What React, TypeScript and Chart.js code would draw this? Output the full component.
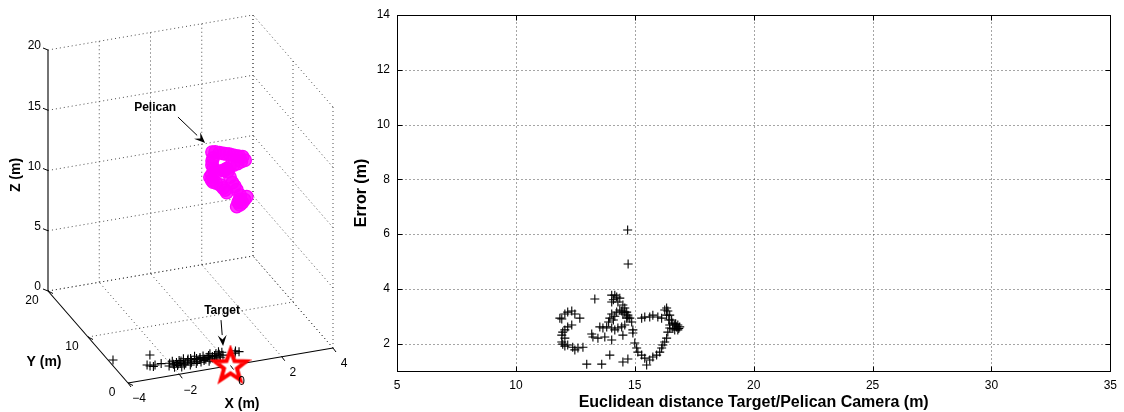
import React, { useEffect, useRef } from 'react';
import { Chart, registerables } from 'chart.js';
Chart.register(...registerables);

const FONT = "'Liberation Sans', Arial, Helvetica, sans-serif";

// ---------------- Right panel: error vs distance ----------------
const distance = [
  11.85, 11.93, 12.06, 12.18, 12.35, 12.48, 12.69, 12.35, 12.18, 12.06,
  11.97, 11.93, 12.06, 11.93, 11.97, 12.06, 12.18, 12.39, 12.48, 12.61,
  12.82, 13.32, 13.19, 13.24, 13.45, 13.74, 14.03, 13.53, 13.66, 13.82,
  14.03, 14.16, 14.29, 14.45, 14.58, 13.95, 12.98, 13.61, 14.50, 14.71,
  14.03, 14.16, 14.24, 14.03, 14.29, 14.10, 14.37, 14.45, 14.50, 14.58,
  14.66, 14.71, 14.03, 13.95, 13.90, 14.10, 14.16, 14.24, 14.37, 14.50,
  14.58, 14.66, 14.71, 14.79, 14.87, 14.92, 14.92, 15.00, 15.08, 15.13,
  15.29, 15.42, 15.50, 15.63, 15.76, 15.92, 16.05, 16.13, 16.18, 16.26,
  16.34, 16.39, 16.47, 16.43, 16.34, 16.26, 16.34, 15.29, 15.42, 15.63,
  15.76, 15.97, 16.13, 16.39, 16.47, 16.55, 16.60, 16.68, 16.76, 16.81,
  16.89, 16.81, 16.68, 16.47, 16.60, 16.72, 16.85, 14.50, 14.72, 14.70,
];
const errorM = [
  2.93, 2.90, 3.08, 3.15, 3.19, 3.08, 2.93, 2.68, 2.61, 2.50,
  2.42, 2.31, 2.20, 2.06, 1.98, 1.91, 1.95, 1.87, 1.77, 1.84,
  1.87, 3.63, 2.35, 2.24, 2.20, 2.24, 2.13, 2.61, 2.57, 2.61,
  2.57, 2.50, 2.57, 2.61, 2.68, 1.58, 1.25, 1.25, 1.33, 1.44,
  3.77, 3.77, 3.70, 3.52, 3.52, 3.60, 3.23, 3.19, 3.08, 3.15,
  2.93, 3.04, 3.08, 2.93, 2.79, 2.86, 3.00, 3.15, 3.66, 3.41,
  3.30, 3.15, 2.97, 2.93, 2.79, 2.50, 2.39, 2.02, 1.84, 1.69,
  1.58, 1.47, 1.22, 1.40, 1.51, 1.58, 1.69, 1.84, 1.95, 2.06,
  2.20, 2.42, 2.68, 2.86, 3.04, 3.23, 3.30, 2.93, 2.97, 2.97,
  3.04, 2.97, 2.93, 3.19, 3.04, 2.86, 2.75, 2.68, 2.61, 2.68,
  2.61, 2.50, 2.50, 2.57, 2.55, 2.72, 2.55, 2.31, 4.91, 6.15,
];
const xTicks = [5, 10, 15, 20, 25, 30, 35];
const yTicks = [2, 4, 6, 8, 10, 12, 14];
const xRange = [5, 35];
const yRange = [1, 14];
const xTitle = 'Euclidean distance Target/Pelican Camera (m)';
const yTitle = 'Error (m)';

// ---------------- Left panel: 3D view ----------------
const pelicanX = [
  0.06, 0.2, 0.35, 0.49, 0.62, 0.75, 0.88, 1.0, 1.13, 1.27, 1.35,
  1.2, 1.04, 0.9, 0.77, 0.63, 0.49, 0.33, 0.18, 0.05, -0.02,
  0.03, 0.1, 0.24, 0.38, 0.48, 0.57, 0.65,
  0.1, 0.08, 0.06, 0.1,
  0.55, 0.69, 0.76, 0.84, 0.95, 1.04, 1.16, 1.12, 1.08, 1.04, 1.15, 1.23, 1.33, 1.43,
];
const pelicanY = [
  5.0, 5.1, 5.0, 4.9, 5.0, 5.1, 5.0, 4.9, 5.0, 5.1, 5.0,
  5.0, 4.9, 5.0, 5.1, 5.0, 4.9, 5.0, 5.1, 5.0, 5.0,
  4.9, 5.0, 5.1, 5.0, 4.9, 5.0, 5.1,
  5.0, 5.1, 5.0, 4.9,
  5.0, 5.1, 5.0, 4.9, 5.0, 5.1, 5.0, 4.9, 5.0, 5.1, 5.0, 4.9, 5.0, 5.1,
];
const pelicanZ = [
  15.78, 15.7, 15.62, 15.54, 15.42, 15.32, 15.23, 15.15, 15.02, 14.92, 14.64,
  14.58, 14.51, 14.4, 14.28, 14.2, 14.13, 14.1, 14.08, 13.9, 13.73,
  13.5, 13.27, 13.1, 12.93, 12.68, 12.44, 12.16,
  15.27, 15.0, 14.7, 14.45,
  14.1, 13.89, 13.45, 13.0, 12.62, 12.27, 11.81, 11.5, 11.26, 10.86, 11.0, 11.2, 11.37, 11.54,
];
const estX = [
  -3.83, -2.43, -2.82, -2.75, -2.55, -2.65, -2.3,
  -2.1, -2.0, -1.95, -1.9, -1.85, -1.8, -1.75, -1.7, -1.65, -1.6,
  -1.55, -1.5, -1.45, -1.4, -1.35, -1.3, -1.25, -1.2, -1.15, -1.1,
  -1.05, -1.0, -0.95, -0.9, -0.85, -0.8, -0.75, -0.7, -0.65, -0.6,
  -0.55, -0.5, -0.45, -0.4, -0.35, -0.3, -0.25, -0.2, -0.15, -0.1,
  -0.05, 0.0, 0.05, 0.1, -1.55, -1.25, -0.95, -0.65, -0.35, -1.75,
  0.52, 0.7, 0.6,
];
const estY = [
  4.84, 4.58, 2.79, 2.5, 2.53, 2.3, 2.6,
  1.9, 2.4, 1.5, 2.1, 2.7, 1.7, 2.3, 1.3, 2.0, 2.6,
  1.6, 2.2, 1.9, 2.8, 1.4, 2.4, 1.8, 2.1, 2.6, 1.5,
  2.3, 1.9, 2.9, 1.6, 2.2, 2.5, 1.8, 2.1, 2.7, 1.5,
  2.3, 1.9, 2.6, 2.0, 2.9, 1.7, 2.4, 2.1, 2.7, 1.9,
  2.5, 3.0, 2.2, 2.8, 2.45, 2.6, 2.4, 2.0, 2.3, 1.95,
  2.2, 2.35, 2.6,
];
const estZ = 0; // estimates lie on the ground plane
const targetPos = [0, 0, 0];
const x3Ticks = [-4, -2, 0, 2, 4];
const y3Ticks = [0, 10, 20];
const z3Ticks = [0, 5, 10, 15, 20];
const pelicanLabel = 'Pelican';
const targetLabel = 'Target';
// annotation anchors in 3D space [x, y, z]
const pelicanText = [-2.16, 5, 20.24];
const pelicanArrowTail = [-1.27, 5, 19.17];
const pelicanArrowTip = [-0.21, 5, 16.63];
const targetText = [-0.33, 0, 4.63];
const targetArrowTail = [-0.37, 0, 3.9];
const targetArrowTip = [-0.29, 0, 1.72];

// projected box layout (pixels)
const LEFT_W = 350;
const H = 412;
const ORIGIN = [128, 383];
const VX = [205, -35];
const VY = [-80, -92];
const VZ = [0, -241];
const X3 = [x3Ticks[0], x3Ticks[x3Ticks.length - 1]];
const Y3 = [y3Ticks[0], y3Ticks[y3Ticks.length - 1]];
const Z3 = [z3Ticks[0], z3Ticks[z3Ticks.length - 1]];

function proj(x: number, y: number, z: number) {
  const u = (x - X3[0]) / (X3[1] - X3[0]);
  const v = (y - Y3[0]) / (Y3[1] - Y3[0]);
  const w = (z - Z3[0]) / (Z3[1] - Z3[0]);
  return {
    x: ORIGIN[0] + u * VX[0] + v * VY[0] + w * VZ[0],
    y: ORIGIN[1] + u * VX[1] + v * VY[1] + w * VZ[1],
  };
}

const fmt = (v: number) => String(v).replace('-', '\u2212');

function makeStar(): HTMLCanvasElement {
  const c = document.createElement('canvas');
  c.width = 42;
  c.height = 42;
  const g = c.getContext('2d')!;
  g.beginPath();
  for (let i = 0; i < 10; i++) {
    const r = i % 2 === 0 ? 16.5 : 6.8;
    const a = -Math.PI / 2 + (i * Math.PI) / 5;
    g.lineTo(21 + r * Math.cos(a), 22 + r * Math.sin(a));
  }
  g.closePath();
  g.fillStyle = '#ffffff';
  g.fill();
  g.strokeStyle = '#ff0000';
  g.lineWidth = 4;
  g.lineJoin = 'miter';
  g.stroke();
  return c;
}

function segDataset(a: number[], b: number[], solid: boolean) {
  return {
    data: [proj(a[0], a[1], a[2]), proj(b[0], b[1], b[2])],
    showLine: true,
    pointRadius: 0,
    borderColor: solid ? '#000000' : '#3a3a3a',
    borderWidth: solid ? 1.1 : 0.9,
    borderDash: solid ? [] : [1, 3],
    order: solid ? 5 : 10,
    clip: false,
  };
}

function drawArrow(ctx: CanvasRenderingContext2D, x1: number, y1: number, x2: number, y2: number) {
  const ang = Math.atan2(y2 - y1, x2 - x1);
  const hl = 11, hw = 4.5;
  const bx = x2 - hl * Math.cos(ang), by = y2 - hl * Math.sin(ang);
  ctx.beginPath();
  ctx.moveTo(x1, y1);
  ctx.lineTo(bx, by);
  ctx.strokeStyle = '#000';
  ctx.lineWidth = 1;
  ctx.stroke();
  ctx.beginPath();
  ctx.moveTo(x2, y2);
  ctx.lineTo(bx + hw * Math.sin(ang), by - hw * Math.cos(ang));
  ctx.lineTo(x2 - 0.6 * hl * Math.cos(ang), y2 - 0.6 * hl * Math.sin(ang));
  ctx.lineTo(bx - hw * Math.sin(ang), by + hw * Math.cos(ang));
  ctx.closePath();
  ctx.fillStyle = '#000';
  ctx.fill();
}

export default function App() {
  const leftRef = useRef<HTMLCanvasElement>(null);
  const rightRef = useRef<HTMLCanvasElement>(null);

  useEffect(() => {
    Chart.defaults.font.family = FONT;
    Chart.defaults.color = '#000';

    // ---------- left 3D chart ----------
    const segs: any[] = [];
    // back wall (y = max)
    x3Ticks.slice(1).forEach((x) => segs.push(segDataset([x, Y3[1], Z3[0]], [x, Y3[1], Z3[1]], false)));
    z3Ticks.forEach((z) => segs.push(segDataset([X3[0], Y3[1], z], [X3[1], Y3[1], z], false)));
    // side wall (x = max)
    y3Ticks.forEach((y) => segs.push(segDataset([X3[1], y, Z3[0]], [X3[1], y, Z3[1]], false)));
    z3Ticks.forEach((z) => segs.push(segDataset([X3[1], Y3[0], z], [X3[1], Y3[1], z], false)));
    // floor (z = min)
    x3Ticks.slice(1).forEach((x) => segs.push(segDataset([x, Y3[0], Z3[0]], [x, Y3[1], Z3[0]], false)));
    y3Ticks.slice(1).forEach((y) => segs.push(segDataset([X3[0], y, Z3[0]], [X3[1], y, Z3[0]], false)));
    // axes
    segs.push(segDataset([X3[0], Y3[1], Z3[0]], [X3[0], Y3[1], Z3[1]], true));
    segs.push(segDataset([X3[0], Y3[0], Z3[0]], [X3[0], Y3[1], Z3[0]], true));
    segs.push(segDataset([X3[0], Y3[0], Z3[0]], [X3[1], Y3[0], Z3[0]], true));

    const star = makeStar();

    const leftPlugin = {
      id: 'left3d',
      afterDatasetsDraw(chart: any) {
        const ctx: CanvasRenderingContext2D = chart.ctx;
        const sx = chart.scales.x, sy = chart.scales.y;
        const P = (p: { x: number; y: number }) => ({ x: sx.getPixelForValue(p.x), y: sy.getPixelForValue(p.y) });
        ctx.save();
        // tick marks
        ctx.strokeStyle = '#000';
        ctx.lineWidth = 1;
        z3Ticks.forEach((z) => {
          const p = P(proj(X3[0], Y3[1], z));
          ctx.beginPath(); ctx.moveTo(p.x, p.y); ctx.lineTo(p.x - 5, p.y - 2); ctx.stroke();
        });
        y3Ticks.forEach((y) => {
          const p = P(proj(X3[0], y, Z3[0]));
          ctx.beginPath(); ctx.moveTo(p.x, p.y); ctx.lineTo(p.x + 5, p.y + 2.5); ctx.stroke();
        });
        x3Ticks.forEach((x) => {
          const p = P(proj(x, Y3[0], Z3[0]));
          ctx.beginPath(); ctx.moveTo(p.x, p.y); ctx.lineTo(p.x + 3, p.y + 4); ctx.stroke();
        });
        // tick labels
        ctx.fillStyle = '#000';
        ctx.font = `12px ${FONT}`;
        ctx.textBaseline = 'middle';
        ctx.textAlign = 'right';
        z3Ticks.forEach((z) => {
          const p = P(proj(X3[0], Y3[1], z));
          ctx.fillText(fmt(z), p.x - 7, p.y - 4);
        });
        ctx.textAlign = 'center';
        y3Ticks.forEach((y) => {
          const p = P(proj(X3[0], y, Z3[0]));
          ctx.fillText(fmt(y), p.x - 16, p.y + 10);
        });
        x3Ticks.forEach((x) => {
          const p = P(proj(x, Y3[0], Z3[0]));
          ctx.fillText(fmt(x), p.x + 11, p.y + 16);
        });
        // axis labels
        ctx.font = `bold 14px ${FONT}`;
        ctx.fillText('X (m)', 242, 404);
        ctx.fillText('Y (m)', 44, 362);
        ctx.save();
        ctx.translate(16, 175);
        ctx.rotate(-Math.PI / 2);
        ctx.fillText('Z (m)', 0, 0);
        ctx.restore();
        // annotations
        ctx.font = `bold 12px ${FONT}`;
        const pt = P(proj(pelicanText[0], pelicanText[1], pelicanText[2]));
        ctx.fillText(pelicanLabel, pt.x, pt.y);
        const tt = P(proj(targetText[0], targetText[1], targetText[2]));
        ctx.fillText(targetLabel, tt.x, tt.y);
        const a1 = P(proj(pelicanArrowTail[0], pelicanArrowTail[1], pelicanArrowTail[2]));
        const a2 = P(proj(pelicanArrowTip[0], pelicanArrowTip[1], pelicanArrowTip[2]));
        drawArrow(ctx, a1.x, a1.y, a2.x, a2.y);
        const b1 = P(proj(targetArrowTail[0], targetArrowTail[1], targetArrowTail[2]));
        const b2 = P(proj(targetArrowTip[0], targetArrowTip[1], targetArrowTip[2]));
        drawArrow(ctx, b1.x, b1.y, b2.x, b2.y);
        ctx.restore();
      },
    };

    const left = new Chart(leftRef.current!, {
      type: 'scatter',
      data: {
        datasets: [
          {
            data: [proj(targetPos[0], targetPos[1], targetPos[2])],
            pointStyle: star as any,
            pointRadius: 16,
            order: 0,
            clip: false,
          } as any,
          {
            data: estX.map((x, i) => proj(x, estY[i], estZ)),
            pointStyle: 'cross',
            pointRadius: 4.5,
            borderColor: '#000',
            borderWidth: 1.1,
            order: 1,
            clip: false,
          },
          {
            data: pelicanX.map((x, i) => proj(x, pelicanY[i], pelicanZ[i])),
            pointStyle: 'circle',
            pointRadius: 6.3,
            borderColor: '#ff00ff',
            backgroundColor: 'rgba(255,0,255,0.8)',
            borderWidth: 1.3,
            order: 2,
            clip: false,
          },
          ...segs,
        ],
      },
      options: {
        animation: false,
        responsive: false,
        maintainAspectRatio: false,
        devicePixelRatio: 1,
        events: [],
        layout: { padding: 0, autoPadding: false },
        plugins: { legend: { display: false }, tooltip: { enabled: false } },
        scales: {
          x: { type: 'linear', min: 0, max: LEFT_W, display: false },
          y: { type: 'linear', min: 0, max: H, reverse: true, display: false },
        },
      },
      plugins: [leftPlugin],
    });

    // ---------- right chart ----------
    const rightPlugin = {
      id: 'frame2d',
      beforeDatasetsDraw(chart: any) {
        const ctx: CanvasRenderingContext2D = chart.ctx;
        const a = chart.chartArea;
        const sx = chart.scales.x, sy = chart.scales.y;
        const L = Math.round(a.left) + 0.5, R = Math.round(a.right) + 0.5;
        const T = Math.round(a.top) + 0.5, B = Math.round(a.bottom) + 0.5;
        ctx.save();
        ctx.strokeStyle = '#4a4a4a';
        ctx.lineWidth = 1;
        ctx.setLineDash([1, 3]);
        xTicks.forEach((v) => {
          if (v === xRange[0] || v === xRange[1]) return;
          const px = Math.round(sx.getPixelForValue(v)) + 0.5;
          ctx.beginPath(); ctx.moveTo(px, B); ctx.lineTo(px, T); ctx.stroke();
        });
        yTicks.forEach((v) => {
          if (v === yRange[0] || v === yRange[1]) return;
          const py = Math.round(sy.getPixelForValue(v)) + 0.5;
          ctx.beginPath(); ctx.moveTo(L, py); ctx.lineTo(R, py); ctx.stroke();
        });
        ctx.setLineDash([]);
        ctx.strokeStyle = '#000';
        ctx.strokeRect(L, T, R - L, B - T);
        const tl = 5;
        xTicks.forEach((v) => {
          const px = Math.round(sx.getPixelForValue(v)) + 0.5;
          ctx.beginPath(); ctx.moveTo(px, B); ctx.lineTo(px, B - tl); ctx.stroke();
          ctx.beginPath(); ctx.moveTo(px, T); ctx.lineTo(px, T + tl); ctx.stroke();
        });
        yTicks.forEach((v) => {
          const py = Math.round(sy.getPixelForValue(v)) + 0.5;
          ctx.beginPath(); ctx.moveTo(L, py); ctx.lineTo(L + tl, py); ctx.stroke();
          ctx.beginPath(); ctx.moveTo(R, py); ctx.lineTo(R - tl, py); ctx.stroke();
        });
        ctx.restore();
      },
    };

    const right = new Chart(rightRef.current!, {
      type: 'scatter',
      data: {
        datasets: [
          {
            data: distance.map((d, i) => ({ x: d, y: errorM[i] })),
            pointStyle: 'cross',
            pointRadius: 4.5,
            borderColor: '#000',
            borderWidth: 1.1,
            clip: false,
          },
        ],
      },
      options: {
        animation: false,
        responsive: false,
        maintainAspectRatio: false,
        devicePixelRatio: 1,
        events: [],
        layout: { padding: { top: 15, right: 13, left: 0, bottom: 0 }, autoPadding: false },
        plugins: { legend: { display: false }, tooltip: { enabled: false } },
        scales: {
          x: {
            type: 'linear',
            min: xRange[0],
            max: xRange[1],
            afterBuildTicks: (s: any) => { s.ticks = xTicks.map((v) => ({ value: v })); },
            afterFit: (s: any) => { s.height = 41; },
            grid: { display: false, drawTicks: false },
            border: { display: false },
            ticks: { font: { size: 12, family: FONT }, color: '#000', padding: 7, maxRotation: 0 },
            title: { display: true, text: xTitle, font: { size: 16, weight: 'bold', family: FONT }, color: '#000', padding: { top: 0, bottom: 0 } },
          },
          y: {
            type: 'linear',
            min: yRange[0],
            max: yRange[1],
            afterBuildTicks: (s: any) => { s.ticks = yTicks.map((v) => ({ value: v })); },
            afterFit: (s: any) => { s.width = 47; },
            grid: { display: false, drawTicks: false },
            border: { display: false },
            ticks: { font: { size: 12, family: FONT }, color: '#000', padding: 7 },
            title: { display: true, text: yTitle, font: { size: 16, weight: 'bold', family: FONT }, color: '#000', padding: { top: 2, bottom: 0 } },
          },
        },
      },
      plugins: [rightPlugin],
    });

    return () => {
      left.destroy();
      right.destroy();
    };
  }, []);

  return (
    <div style={{ position: 'fixed', left: 0, top: 0, width: 1124, height: H, background: '#fff' }}>
      <canvas ref={leftRef} width={LEFT_W} height={H} style={{ position: 'absolute', left: 0, top: 0, width: LEFT_W, height: H }} />
      <canvas ref={rightRef} width={1124 - LEFT_W} height={H} style={{ position: 'absolute', left: LEFT_W, top: 0, width: 1124 - LEFT_W, height: H }} />
    </div>
  );
}
